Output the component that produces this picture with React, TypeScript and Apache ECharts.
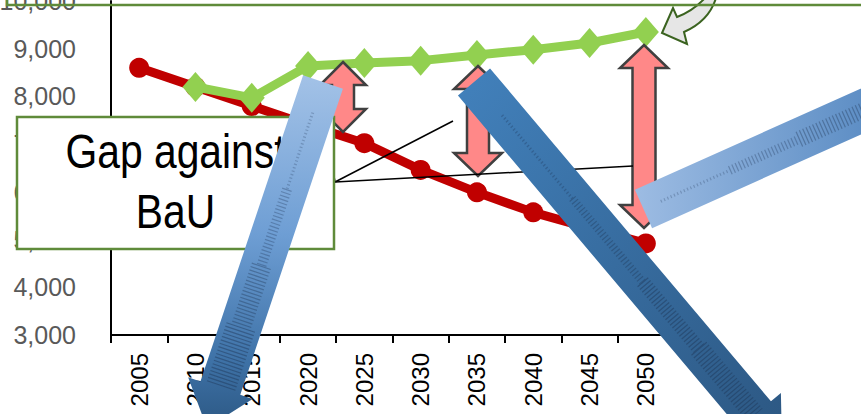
import React, { useEffect, useRef } from "react";
import * as echarts from "echarts";

// Emissions pathways: business-as-usual vs. policy scenario
const years = ["2005", "2010", "2015", "2020", "2025", "2030", "2035", "2040", "2045", "2050"];
const bauValues = [8600, 8200, 7800, 7400, 7020, 6460, 5990, 5570, 5240, 4920];
const policyValues: (number | null)[] = [null, 8200, 7970, 8640, 8700, 8750, 8870, 8980, 9120, 9350];
const yMin = 3000;
const yMax = 10000;
const yStep = 1000;
const boxLines = ["Gap against", "BaU"];

const SANS = "'Liberation Sans', Arial, sans-serif";
const FRAME_GREEN = "#5F8B3A";

type Pt = [number, number];

// Block arrow outline from tail centre to tip
function blockArrow(t: Pt, p: Pt, w: number, hw: number, hl: number): Pt[] {
  const dx = p[0] - t[0];
  const dy = p[1] - t[1];
  const len = Math.hypot(dx, dy);
  const ux = dx / len;
  const uy = dy / len;
  const nx = -uy;
  const ny = ux;
  const bx = p[0] - ux * hl;
  const by = p[1] - uy * hl;
  return [
    [t[0] + nx * w / 2, t[1] + ny * w / 2],
    [bx + nx * w / 2, by + ny * w / 2],
    [bx + nx * hw / 2, by + ny * hw / 2],
    [p[0], p[1]],
    [bx - nx * hw / 2, by - ny * hw / 2],
    [bx - nx * w / 2, by - ny * w / 2],
    [t[0] - nx * w / 2, t[1] - ny * w / 2],
  ];
}

// Dashed hatch bands running along an arrow's shaft
function hatch(t: Pt, p: Pt, hl: number, bands: [number, number, number, number][], z: number) {
  const dx = p[0] - t[0];
  const dy = p[1] - t[1];
  const len = Math.hypot(dx, dy);
  const ux = dx / len;
  const uy = dy / len;
  const shaft = len - hl;
  return bands.map(([a, b, width, op]) => ({
    type: "line",
    z,
    silent: true,
    shape: {
      x1: t[0] + ux * shaft * a,
      y1: t[1] + uy * shaft * a,
      x2: t[0] + ux * shaft * b,
      y2: t[1] + uy * shaft * b,
    },
    style: {
      stroke: `rgba(28,48,78,${op})`,
      lineWidth: width,
      lineDash: [1.2, 2.4],
      fill: null,
    },
  }));
}

// Vertical double-headed arrow
function doubleArrow(cx: number, top: number, bottom: number, sw: number, hw: number, hl: number): Pt[] {
  return [
    [cx, top],
    [cx + hw, top + hl],
    [cx + sw, top + hl],
    [cx + sw, bottom - hl],
    [cx + hw, bottom - hl],
    [cx, bottom],
    [cx - hw, bottom - hl],
    [cx - sw, bottom - hl],
    [cx - sw, top + hl],
    [cx - hw, top + hl],
  ];
}

echarts.graphic.registerShape(
  "curvedPointer",
  echarts.graphic.extendPath(
    "M662,33 L673,8 L677,17 Q693,11 705,-2 L716,-2 Q709,21 684,32 L687,44 Z",
    {}
  )
);

export default function App() {
  const ref = useRef<HTMLDivElement>(null);

  useEffect(() => {
    if (!ref.current) return;
    const chart = echarts.init(ref.current, null, { renderer: "svg" });

    const a1: [Pt, Pt] = [[323, 82], [207, 428]];
    const a2: [Pt, Pt] = [[474, 82], [782, 447]];
    const a3: [Pt, Pt] = [[643.5, 209], [1027, 37]];

    const pinkStyle = { fill: "#FF8888", stroke: "#404040", lineWidth: 2.5, lineJoin: "miter" };

    const option: any = {
      animation: false,
      backgroundColor: "#ffffff",
      grid: { left: 111, right: 187, top: 1, bottom: 79, containLabel: false, outerBoundsMode: "none" },
      xAxis: {
        type: "category",
        data: years,
        boundaryGap: true,
        axisLine: { lineStyle: { color: "#000000", width: 2 } },
        axisTick: { show: true, length: 8, lineStyle: { color: "#000000", width: 2 } },
        axisLabel: {
          rotate: 90,
          margin: 18,
          fontSize: 24,
          color: "#000000",
          fontFamily: SANS,
        },
        splitLine: { show: false },
      },
      yAxis: {
        type: "value",
        min: yMin,
        max: yMax,
        interval: yStep,
        axisLine: { show: true, lineStyle: { color: "#000000", width: 2 } },
        axisTick: { show: false },
        splitLine: { show: false },
        axisLabel: {
          margin: 35,
          fontSize: 25,
          color: "#595959",
          fontFamily: SANS,
          formatter: (v: number) => v.toLocaleString("en-US"),
        },
      },
      series: [
        {
          name: "BaU",
          type: "line",
          data: bauValues,
          symbol: "circle",
          symbolSize: 20,
          lineStyle: { color: "#C00000", width: 9 },
          itemStyle: { color: "#C00000" },
          z: 2,
        },
        {
          name: "Policy",
          type: "line",
          data: policyValues,
          symbol: "diamond",
          symbolSize: [26, 30],
          lineStyle: { color: "#92D050", width: 9 },
          itemStyle: { color: "#92D050" },
          z: 3,
        },
      ],
      graphic: [
        // curved call-out pointer and the frame it leaves from
        {
          type: "curvedPointer",
          z: 40,
          x: 0,
          y: 0,
          style: { fill: "#E6E6E6", stroke: "#3B6320", lineWidth: 2 },
        },
        {
          type: "rect",
          z: 45,
          shape: { x: 7, y: -30, width: 900, height: 35 },
          style: { fill: null, stroke: FRAME_GREEN, lineWidth: 2.5 },
        },
        // gap markers
        { type: "polygon", z: 60, shape: { points: doubleArrow(343, 62, 132, 11, 23, 23) }, style: pinkStyle },
        { type: "polygon", z: 60, shape: { points: doubleArrow(478, 66, 176, 11, 24, 23) }, style: pinkStyle },
        { type: "polygon", z: 60, shape: { points: doubleArrow(644, 45, 228, 11.5, 24, 23) }, style: pinkStyle },
        // leader lines from the text box
        { type: "line", z: 62, shape: { x1: 335, y1: 182, x2: 323, y2: 116 }, style: { stroke: "#000", lineWidth: 1.5 } },
        { type: "line", z: 62, shape: { x1: 335, y1: 182, x2: 453, y2: 121 }, style: { stroke: "#000", lineWidth: 1.5 } },
        { type: "line", z: 62, shape: { x1: 335, y1: 182, x2: 633, y2: 166 }, style: { stroke: "#000", lineWidth: 1.5 } },
        // text box
        {
          type: "rect",
          z: 70,
          shape: { x: 17, y: 117, width: 317, height: 132 },
          style: { fill: "#ffffff", stroke: FRAME_GREEN, lineWidth: 2.5 },
        },
        ...boxLines.map((line, i) => ({
          type: "text",
          z: 71,
          x: 175.5,
          y: 151 + i * 60,
          scaleX: 0.85,
          style: {
            text: line,
            fontSize: 48,
            fontFamily: SANS,
            fill: "#000000",
            align: "center",
            verticalAlign: "middle",
          },
        })),
        // block arrows
        {
          type: "polygon",
          z: 80,
          shape: { points: blockArrow(a1[0], a1[1], 42, 68, 42) },
          style: {
            fill: new echarts.graphic.LinearGradient(0, 0, 0, 1, [
              { offset: 0, color: "#A3C2E7" },
              { offset: 0.45, color: "#6E9ED4" },
              { offset: 0.8, color: "#3F73A8" },
              { offset: 1, color: "#2C5884" },
            ]),
          },
        },
        ...hatch(a1[0], a1[1], 42, [
          [0.1, 0.35, 3, 0.25],
          [0.35, 0.6, 10, 0.3],
          [0.6, 0.8, 20, 0.35],
          [0.8, 1.0, 30, 0.4],
        ], 81),
        {
          type: "polygon",
          z: 82,
          shape: { points: blockArrow(a2[0], a2[1], 42, 68, 42) },
          style: {
            fill: new echarts.graphic.LinearGradient(0, 0, 1, 1, [
              { offset: 0, color: "#4281BC" },
              { offset: 1, color: "#2C5782" },
            ]),
          },
        },
        ...hatch(a2[0], a2[1], 42, [
          [0.1, 0.35, 3, 0.3],
          [0.35, 0.6, 8, 0.35],
          [0.6, 0.8, 14, 0.4],
          [0.8, 1.0, 20, 0.4],
        ], 83),
        {
          type: "polygon",
          z: 84,
          shape: { points: blockArrow(a3[0], a3[1], 42, 68, 42) },
          style: {
            fill: new echarts.graphic.LinearGradient(0, 0, 1, 0, [
              { offset: 0, color: "#9DBCE3" },
              { offset: 0.6, color: "#5C8DC4" },
              { offset: 1, color: "#3D6FA6" },
            ]),
          },
        },
        ...hatch(a3[0], a3[1], 42, [
          [0.05, 0.25, 3, 0.25],
          [0.25, 0.45, 9, 0.3],
          [0.45, 0.65, 16, 0.35],
          [0.65, 1.0, 22, 0.4],
        ], 85),
      ],
    };

    chart.setOption(option);
    return () => chart.dispose();
  }, []);

  return (
    <div
      ref={ref}
      style={{ position: "fixed", left: 0, top: 0, width: 861, height: 414, background: "#fff" }}
    />
  );
}
